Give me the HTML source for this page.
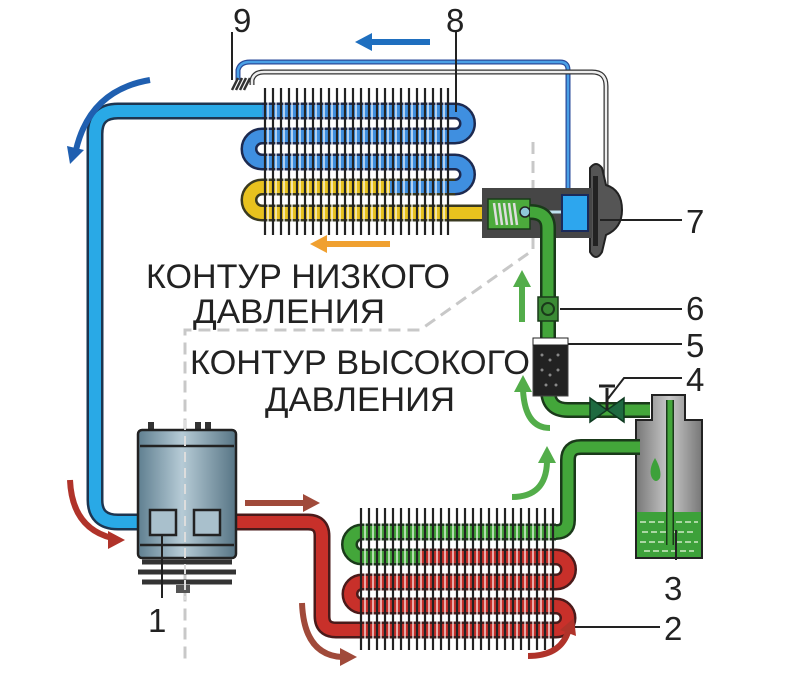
<!DOCTYPE html>
<html><head><meta charset="utf-8"><style>
html,body{margin:0;padding:0;background:#fff}
svg{display:block}
text{font-family:"Liberation Sans",sans-serif;fill:#222}
</style></head><body>
<svg width="786" height="682" viewBox="0 0 786 682" xmlns="http://www.w3.org/2000/svg">
<defs>
<linearGradient id="comp" x1="0" x2="1"><stop offset="0" stop-color="#5f7f90"/><stop offset="0.45" stop-color="#b6cbd6"/><stop offset="1" stop-color="#577585"/></linearGradient>
<linearGradient id="rec" x1="0" x2="1"><stop offset="0" stop-color="#777"/><stop offset="0.5" stop-color="#c9c9c9"/><stop offset="1" stop-color="#777"/></linearGradient>
</defs>
<!-- dashed divider -->
<path d="M533 142 L533 250 L420 330 L185 330 L185 660" fill="none" stroke="#c8c8c8" stroke-width="3" stroke-dasharray="12 7"/>

<!-- thin lines top -->
<path d="M238 80 L238 70 Q240 62 250 62 L560 62 Q568 62 568 70 L568 198" fill="none" stroke="#2a4a9a" stroke-width="5"/>
<path d="M238 80 L238 70 Q240 62 250 62 L560 62 Q568 62 568 70 L568 198" fill="none" stroke="#4aa0e6" stroke-width="2.5"/>
<path d="M252 85 L252 80 Q254 72 264 72 L592 72 Q606 72 606 86 L606 200" fill="none" stroke="#333" stroke-width="5"/>
<path d="M252 85 L252 80 Q254 72 264 72 L592 72 Q606 72 606 86 L606 200" fill="none" stroke="#eee" stroke-width="2.5"/>
<!-- coil 9 -->
<g stroke="#333" stroke-width="2.5" fill="none"><path d="M232 90 L238 78 M236 90 L242 78 M240 90 L246 78 M244 90 L250 78"/></g>

<!-- main blue pipe -->
<path d="M262 111 L118 111 Q95 111 95 134 L95 500 Q95 522 118 522 L155 522" fill="none" stroke="#1d3550" stroke-width="17"/>
<path d="M262 111 L118 111 Q95 111 95 134 L95 500 Q95 522 118 522 L155 522" fill="none" stroke="#29a9e6" stroke-width="12"/>

<!-- evaporator tubes -->
<g fill="none" stroke-linecap="butt">
<path d="M262 111 L455 111 A12.5 12.5 0 0 1 455 136 L262 136 A13 13 0 0 0 262 162 L455 162 A12.5 12.5 0 0 1 455 187" stroke="#1d2a50" stroke-width="17"/>
<path d="M262 111 L455 111 A12.5 12.5 0 0 1 455 136 L262 136 A13 13 0 0 0 262 162 L455 162 A12.5 12.5 0 0 1 455 187" stroke="#3f8fe0" stroke-width="12"/>
<path d="M455 187 L262 187 A13 13 0 0 0 262 213 L490 213" stroke="#3a3a20" stroke-width="17"/>
<path d="M455 187 L262 187 A13 13 0 0 0 262 213 L490 213" stroke="#e8c21e" stroke-width="12"/>
<path d="M400 187 L262 187" stroke="#e8c21e" stroke-width="12"/>
<path d="M455 187 L390 187" stroke="#3f8fe0" stroke-width="12"/>
</g>
<g id="fins" stroke="#222" stroke-width="2.2">
<path d="M265 88V235M273 88V235M281 88V235M289 88V235M297 88V235M305 88V235M313 88V235M321 88V235M329 88V235M337 88V235M345 88V235M353 88V235M361 88V235M369 88V235M377 88V235M385 88V235M393 88V235M401 88V235M409 88V235M417 88V235M425 88V235M433 88V235M441 88V235M448 88V235"/>
</g>
<g stroke="#fff" stroke-width="1.5" opacity="0.8">
<path d="M268 88V235M276 88V235M284 88V235M292 88V235M300 88V235M308 88V235M316 88V235M324 88V235M332 88V235M340 88V235M348 88V235M356 88V235M364 88V235M372 88V235M380 88V235M388 88V235M396 88V235M404 88V235M412 88V235M420 88V235M428 88V235M436 88V235M444 88V235"/>
</g>
<!-- 8 leader -->
<path d="M456 32 L456 112" stroke="#222" stroke-width="2"/>
<path d="M232 32 L232 80" stroke="#222" stroke-width="2"/>

<!-- expansion valve -->
<path d="M590 168 Q596 160 602 168 L606 185 Q622 190 622 210 Q622 228 606 235 L602 252 Q596 262 590 252 Z" fill="#555" stroke="#222" stroke-width="2"/>
<rect x="593" y="176" width="5" height="70" fill="#222"/>
<rect x="482" y="188" width="110" height="50" fill="#333"/>
<rect x="482" y="188" width="110" height="50" fill="#5a5a5a" opacity="0.5"/>
<rect x="488" y="199" width="42" height="30" fill="#4caa3c" stroke="#1a3a1a" stroke-width="1.5"/>
<g stroke="#ddd" stroke-width="2.5"><path d="M494 203L497 225M499 203L502 225M504 203L507 225M509 203L512 225M514 203L517 225"/></g>
<circle cx="525" cy="212" r="5" fill="#8fc7d8" stroke="#222" stroke-width="1.5"/>
<path d="M530 212 L564 212" stroke="#bfe3ef" stroke-width="3"/>
<rect x="562" y="195" width="26" height="36" fill="#2da6ee" stroke="#1a2a5a" stroke-width="2"/>

<!-- green high pressure line -->
<path d="M530 212 Q548 212 548 228 L548 395" fill="none" stroke="#1a3a1a" stroke-width="16"/>
<path d="M530 212 Q548 212 548 228 L548 395" fill="none" stroke="#43a63a" stroke-width="11"/>
<rect x="538" y="297" width="20" height="24" fill="#3a8a34" stroke="#1a3a1a" stroke-width="1.5"/>
<circle cx="548" cy="309" r="6" fill="#3a8a34" stroke="#1a3a1a" stroke-width="2"/>
<path d="M548 390 Q548 410 568 410 L650 410" fill="none" stroke="#1a3a1a" stroke-width="16"/>
<path d="M548 390 Q548 410 568 410 L650 410" fill="none" stroke="#43a63a" stroke-width="11"/>
<rect x="533" y="338" width="35" height="58" fill="#222" stroke="#444" stroke-width="1"/>
<g fill="#fff" opacity="0.55"><rect x="536" y="346" width="29" height="46" fill="url(#none)" /></g>
<rect x="533" y="338" width="35" height="7" fill="#fff" stroke="#222"/>
<g fill="#888"><circle cx="542" cy="355" r="1.5"/><circle cx="550" cy="360" r="1.5"/><circle cx="558" cy="355" r="1.5"/><circle cx="542" cy="370" r="1.5"/><circle cx="550" cy="375" r="1.5"/><circle cx="558" cy="370" r="1.5"/><circle cx="546" cy="385" r="1.5"/><circle cx="556" cy="385" r="1.5"/></g>
<!-- valve 4 -->
<path d="M590 398 L607 410 L590 422 Z M624 398 L607 410 L624 422 Z" fill="#1e6a40" stroke="#0e3a20" stroke-width="1.5"/>
<path d="M607 410 L607 388 M599 386 L615 386" stroke="#222" stroke-width="3"/>

<!-- receiver -->
<path d="M652 405 L652 395 L685 395 L685 420 L702 420 L702 558 L636 558 L636 420 L652 420 Z" fill="url(#rec)" stroke="#222" stroke-width="2"/>
<rect x="637" y="512" width="64" height="45" fill="#3da13a"/>
<g stroke="#cfe9c5" stroke-width="1.5" stroke-dasharray="6 3"><path d="M640 522H698M642 532H696M640 542H698M644 551H694"/></g>
<path d="M670 400 L670 545" stroke="#1a3a1a" stroke-width="8"/>
<path d="M670 400 L670 545" stroke="#43a63a" stroke-width="5"/>
<path d="M655 458 Q648 470 652 478 Q656 484 660 478 Q662 470 655 458Z" fill="#3da13a"/>

<!-- condenser pipes -->
<path d="M556 532 Q568 532 568 520 L568 460 Q568 447 581 447 L640 447" fill="none" stroke="#1a3a1a" stroke-width="16"/>
<path d="M556 532 Q568 532 568 520 L568 460 Q568 447 581 447 L640 447" fill="none" stroke="#43a63a" stroke-width="11"/>
<g fill="none">
<path d="M556 532 L362 532 A12.5 12.5 0 0 0 362 557 L556 557" stroke="#1a3a1a" stroke-width="17"/>
<path d="M556 532 L362 532 A12.5 12.5 0 0 0 362 557 L420 557" stroke="#43a63a" stroke-width="12"/>
<path d="M420 557 L556 557 A12.5 12.5 0 0 1 556 582 L362 582 A12 12 0 0 0 362 606 L556 606 A12 12 0 0 1 556 630 L356 630" stroke="#4a1a1a" stroke-width="17"/>
<path d="M420 557 L556 557 A12.5 12.5 0 0 1 556 582 L362 582 A12 12 0 0 0 362 606 L556 606 A12 12 0 0 1 556 630 L356 630" stroke="#c8302a" stroke-width="12"/>
<path d="M220 522 L308 522 Q322 522 322 536 L322 616 Q322 630 336 630 L370 630" stroke="#4a1a1a" stroke-width="17"/>
<path d="M220 522 L308 522 Q322 522 322 536 L322 616 Q322 630 336 630 L370 630" stroke="#c8302a" stroke-width="12"/>
</g>
<g stroke="#222" stroke-width="2.2">
<path d="M361 508V650M369 508V650M377 508V650M385 508V650M393 508V650M401 508V650M409 508V650M417 508V650M425 508V650M433 508V650M441 508V650M449 508V650M457 508V650M465 508V650M473 508V650M481 508V650M489 508V650M497 508V650M505 508V650M513 508V650M521 508V650M529 508V650M537 508V650M545 508V650M553 508V650"/>
</g>
<g stroke="#fff" stroke-width="1.5" opacity="0.8">
<path d="M365 508V650M373 508V650M381 508V650M389 508V650M397 508V650M405 508V650M413 508V650M421 508V650M429 508V650M437 508V650M445 508V650M453 508V650M461 508V650M469 508V650M477 508V650M485 508V650M493 508V650M501 508V650M509 508V650M517 508V650M525 508V650M533 508V650M541 508V650M549 508V650"/>
</g>

<!-- compressor -->
<rect x="148" y="422" width="6" height="10" fill="#333"/><rect x="195" y="422" width="6" height="10" fill="#333"/><rect x="205" y="422" width="6" height="10" fill="#333"/>
<rect x="138" y="430" width="98" height="128" rx="4" fill="url(#comp)" stroke="#222" stroke-width="2.5"/>
<path d="M140 446H234M140 545H234" stroke="#222" stroke-width="2.5"/>
<path d="M142 562H232M138 572H236M142 582H232" stroke="#333" stroke-width="5"/>
<rect x="176" y="585" width="14" height="8" fill="#555"/>
<rect x="150" y="510" width="26" height="25" fill="#a9c0cc" stroke="#222" stroke-width="2.5"/>
<rect x="194" y="510" width="26" height="25" fill="#a9c0cc" stroke="#222" stroke-width="2.5"/>
<path d="M185 420V600" stroke="#ddd" stroke-width="2" stroke-dasharray="10 6"/>
<path d="M162 535 L162 598" stroke="#222" stroke-width="2"/>

<!-- leader lines -->
<g stroke="#222" stroke-width="2" fill="none">
<path d="M600 220H682M560 309H682M568 344H682M607 400L624 378H682M676 530V560M566 627H660"/>
</g>

<!-- arrows -->
<g stroke-width="6" fill="none" stroke-linecap="butt">
<path d="M430 42H368" stroke="#1f6fbf"/>
<path d="M150 80 Q90 90 76 150" stroke="#1f5fb0"/>
<path d="M390 244H325" stroke="#f0a030"/>
<path d="M522 322V285" stroke="#53ad4a"/>
<path d="M550 428 Q525 428 523 390" stroke="#53ad4a"/>
<path d="M512 497 Q546 497 547 462" stroke="#53ad4a"/>
<path d="M245 503H305" stroke="#a04a3a"/>
<path d="M70 480 Q72 528 112 538" stroke="#b0332a"/>
<path d="M302 603 Q304 655 342 657" stroke="#a04a3a"/>
<path d="M528 656 Q560 656 568 632" stroke="#b0332a"/>
</g>
<g>
<path d="M355 42 L372 33 L372 51Z" fill="#1f6fbf"/>
<path d="M70 164 L67 146 L84 150Z" fill="#1f5fb0"/>
<path d="M310 244 L327 235 L327 253Z" fill="#f0a030"/>
<path d="M522 270 L513 287 L531 287Z" fill="#53ad4a"/>
<path d="M523 375 L514 392 L532 392Z" fill="#53ad4a"/>
<path d="M547 446 L538 463 L556 463Z" fill="#53ad4a"/>
<path d="M320 503 L303 494 L303 512Z" fill="#a04a3a"/>
<path d="M125 540 L108 531 L108 549Z" fill="#b0332a"/>
<path d="M357 657 L340 648 L340 666Z" fill="#a04a3a"/>
<path d="M574 618 L560 630 L576 636Z" fill="#b0332a"/>
</g>

<!-- labels -->
<g font-size="34">
<text x="146" y="288" textLength="304" lengthAdjust="spacingAndGlyphs">КОНТУР НИЗКОГО</text>
<text x="193" y="323" textLength="192" lengthAdjust="spacingAndGlyphs">ДАВЛЕНИЯ</text>
<text x="190" y="374" textLength="340" lengthAdjust="spacingAndGlyphs">КОНТУР ВЫСОКОГО</text>
<text x="265" y="411" textLength="190" lengthAdjust="spacingAndGlyphs">ДАВЛЕНИЯ</text>
</g>
<g font-size="33">
<text x="233" y="32">9</text>
<text x="446" y="32">8</text>
<text x="686" y="233">7</text>
<text x="686" y="320">6</text>
<text x="686" y="357">5</text>
<text x="686" y="391">4</text>
<text x="664" y="600">3</text>
<text x="664" y="640">2</text>
<text x="148" y="632">1</text>
</g>
</svg>
</body></html>
